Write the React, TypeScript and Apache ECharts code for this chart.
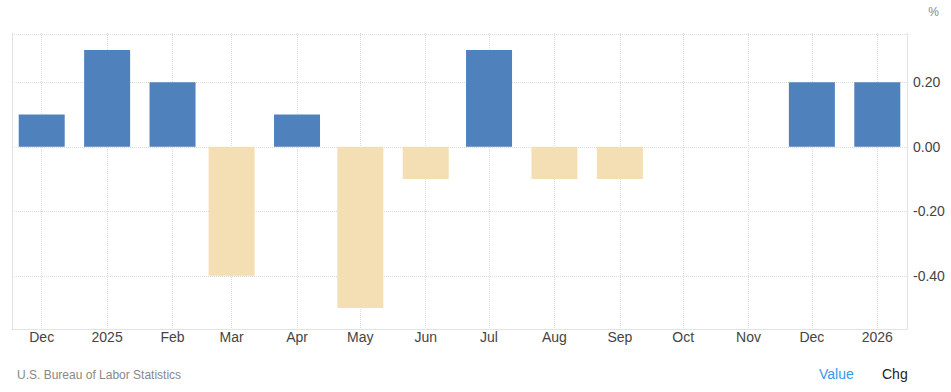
import React, { useEffect, useRef } from "react";
import * as echarts from "echarts";

const months: string[] = [
  "2024-12-01", "2025-01-01", "2025-02-01", "2025-03-01", "2025-04-01", "2025-05-01",
  "2025-06-01", "2025-07-01", "2025-08-01", "2025-09-01", "2025-10-01", "2025-11-01",
  "2025-12-01", "2026-01-01",
];
const values: (number | null)[] = [0.1, 0.3, 0.2, -0.4, 0.1, -0.5, -0.1, 0.3, -0.1, -0.1, null, null, 0.2, 0.2];
const monthNames: string[] = ["Jan", "Feb", "Mar", "Apr", "May", "Jun", "Jul", "Aug", "Sep", "Oct", "Nov", "Dec"];
const yTicks: number[] = [0.2, 0, -0.2, -0.4];

const POS = "#4F81BD";
const NEG = "#F4DEB3";
const GRID = "#dcdcdc";
const AXIS = "#e3e3e3";
const FONT = "Arial, 'Liberation Sans', sans-serif";

export default function App() {
  const ref = useRef<HTMLDivElement>(null);
  useEffect(() => {
    document.body.style.margin = "0";
    if (!ref.current) return;
    const chart = echarts.init(ref.current, null, { renderer: "svg" });
    const toTs = (s: string) => {
      const [y, m, d] = s.split("-").map(Number);
      return Date.UTC(y, m - 1, d);
    };
    const day = 24 * 3600 * 1000;
    const xMin = toTs(months[0]) - 14.08 * day;
    const xMax = toTs(months[months.length - 1]) + 14.08 * day;
    const yMin = -0.565;
    const yMax = 0.353;
    chart.setOption({
      animation: false,
      useUTC: true,
      textStyle: { fontFamily: FONT },
      grid: { left: 12, right: 44, top: 33, bottom: 63, containLabel: false },
      xAxis: [
        {
          type: "time",
          min: xMin,
          max: xMax,
          minInterval: 28 * day,
          maxInterval: 31 * day,
          axisLine: { show: true, onZero: false, lineStyle: { color: AXIS, width: 1 } },
          axisTick: { show: false },
          splitLine: { show: true, lineStyle: { color: GRID, type: "dotted" } },
          axisLabel: {
            color: "#444",
            fontSize: 14,
            fontFamily: FONT,
            margin: 1,
            showMinLabel: false,
            showMaxLabel: false,
            hideOverlap: false,
            formatter: (v: number) => {
              const d = new Date(v);
              return d.getUTCMonth() === 0 ? String(d.getUTCFullYear()) : monthNames[d.getUTCMonth()];
            },
          },
        },
        {
          type: "value",
          min: xMin,
          max: xMax,
          show: false,
          splitLine: { show: false },
        },
      ],
      yAxis: [
        {
          type: "value",
          position: "right",
          min: yMin,
          max: yMax,
          axisLine: { show: true, lineStyle: { color: AXIS } },
          axisTick: { show: false },
          splitLine: { show: false },
          axisLabel: { show: false },
        },
        {
          type: "value",
          position: "left",
          min: yMin,
          max: yMax,
          axisLine: { show: true, lineStyle: { color: AXIS } },
          axisTick: { show: false },
          axisLabel: { show: false },
          splitLine: { show: false },
        },
      ],
      graphic: [
        { type: "text", right: 12, top: 6, style: { text: "%", fill: "#888", fontSize: 12, fontFamily: FONT } },
        { type: "text", left: 17, top: 369, style: { text: "U.S. Bureau of Labor Statistics", fill: "#888", fontSize: 12, fontFamily: FONT } },
        { type: "text", left: 819, top: 367, style: { text: "Value", fill: "#3399ee", fontSize: 14, fontFamily: FONT } },
        { type: "text", left: 882, top: 367, style: { text: "Chg", fill: "#222", fontSize: 14, fontFamily: FONT } },
      ],
      series: [
        {
          type: "bar",
          xAxisIndex: 1,
          yAxisIndex: 0,
          barWidth: 46,
          z: 2,
          data: months.map((m, i) => ({
            value: [toTs(m), values[i]],
            itemStyle: { color: values[i] !== null && (values[i] as number) < 0 ? NEG : POS },
          })),
          markLine: {
            silent: true,
            z: 1,
            symbol: "none",
            lineStyle: { color: GRID, type: "dotted", width: 1 },
            label: {
              show: true,
              position: "end",
              distance: 6,
              color: "#444",
              fontSize: 14,
              fontFamily: FONT,
              formatter: (p: any) => Number(p.value).toFixed(2),
            },
            emphasis: { disabled: true },
            data: [
              ...yTicks.map((v) => ({ yAxis: v })),
              { yAxis: yMax, label: { show: false } },
            ],
          },
        },
      ],
    });
    return () => chart.dispose();
  }, []);
  return <div ref={ref} style={{ width: 951, height: 392 }} />;
}
